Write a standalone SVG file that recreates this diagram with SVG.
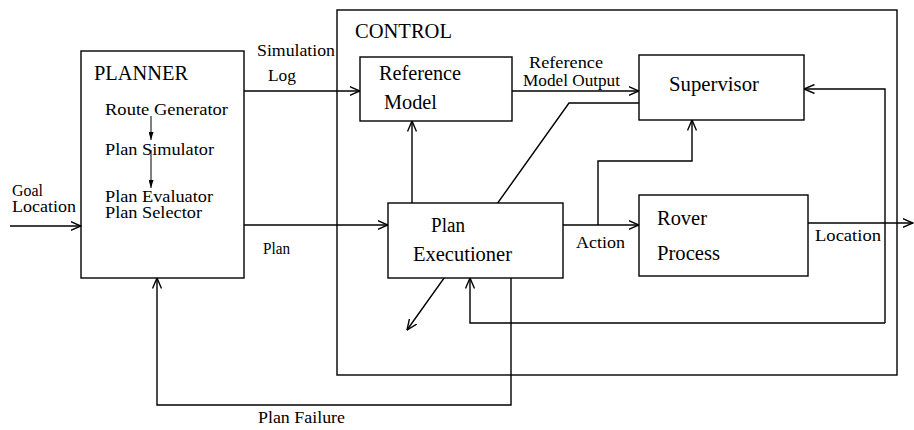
<svg xmlns="http://www.w3.org/2000/svg" width="914" height="430" viewBox="0 0 914 430">
<style>
.box{fill:#fff;stroke:#000;stroke-width:1.4}
.frame{fill:none;stroke:#000;stroke-width:1.4}
.ln{fill:none;stroke:#000;stroke-width:1.4}
.thin{fill:none;stroke:#000;stroke-width:1}
text{font-family:"Liberation Serif","Times New Roman",serif;fill:#000}
.t{font-size:20px}
.l{font-size:17.5px}
</style>
<defs>
<marker id="arr" viewBox="0 0 11 10" refX="10.5" refY="5" markerWidth="11" markerHeight="10" orient="auto" markerUnits="userSpaceOnUse">
<path d="M0,0.5 L10.5,5 L0,9.5" fill="none" stroke="#000" stroke-width="1.4"/>
</marker>
<marker id="sarr" viewBox="0 0 8 5" refX="8" refY="2.5" markerWidth="8" markerHeight="5" orient="auto" markerUnits="userSpaceOnUse">
<path d="M0,0 L8,2.5 L0,5 Z" fill="#000"/>
</marker>
</defs>

<g id="control">
<rect class="frame" x="337" y="10" width="560" height="365"/>
<text class="t" x="355" y="38" textLength="97" lengthAdjust="spacingAndGlyphs">CONTROL</text>
</g>

<g id="connectors">
<path class="ln" d="M10,226 H81" marker-end="url(#arr)"/>
<path class="ln" d="M244,91 H360" marker-end="url(#arr)"/>
<path class="ln" d="M244,225 H388" marker-end="url(#arr)"/>
<path class="ln" d="M412,203 V121" marker-end="url(#arr)"/>
<path class="ln" d="M512,91 H639" marker-end="url(#arr)"/>
<path class="ln" d="M639,103 H569 L407,330" marker-end="url(#arr)"/>
<path class="ln" d="M563,225 H639" marker-end="url(#arr)"/>
<path class="ln" d="M598,225 V161 H692 V120" marker-end="url(#arr)"/>
<path class="ln" d="M808,223 H913" marker-end="url(#arr)"/>
<path class="ln" d="M885,323 V89 H804" marker-end="url(#arr)"/>
<path class="ln" d="M885,323 H470 V278" marker-end="url(#arr)"/>
<path class="ln" d="M511,278 V405 H157 V278" marker-end="url(#arr)"/>
<path class="thin" d="M151,116 V140" marker-end="url(#sarr)"/>
<path class="thin" d="M151,150 V188" marker-end="url(#sarr)"/>
<text class="l" x="12" y="196" textLength="31" lengthAdjust="spacingAndGlyphs">Goal</text>
<text class="l" x="12" y="212" textLength="64" lengthAdjust="spacingAndGlyphs">Location</text>
<text class="l" x="257" y="56" textLength="78" lengthAdjust="spacingAndGlyphs">Simulation</text>
<text class="l" x="268" y="81" textLength="28" lengthAdjust="spacingAndGlyphs">Log</text>
<text class="l" x="263" y="254" textLength="27" lengthAdjust="spacingAndGlyphs">Plan</text>
<text class="l" x="529" y="68" textLength="74" lengthAdjust="spacingAndGlyphs">Reference</text>
<text class="l" x="523" y="86" textLength="97" lengthAdjust="spacingAndGlyphs">Model Output</text>
<text class="l" x="576" y="248" textLength="49" lengthAdjust="spacingAndGlyphs">Action</text>
<text class="l" x="815" y="241" textLength="66" lengthAdjust="spacingAndGlyphs">Location</text>
<text class="l" x="258" y="423" textLength="87" lengthAdjust="spacingAndGlyphs">Plan Failure</text>
</g>

<g id="planner">
<rect class="box" x="81" y="51" width="163" height="227" style="fill:none"/>
<text class="t" x="94" y="80" textLength="94" lengthAdjust="spacingAndGlyphs">PLANNER</text>
<text class="l" x="105" y="115" textLength="123" lengthAdjust="spacingAndGlyphs">Route Generator</text>
<text class="l" x="105" y="155" textLength="109" lengthAdjust="spacingAndGlyphs">Plan Simulator</text>
<text class="l" x="105" y="202" textLength="108" lengthAdjust="spacingAndGlyphs">Plan Evaluator</text>
<text class="l" x="105" y="218" textLength="97" lengthAdjust="spacingAndGlyphs">Plan Selector</text>
</g>

<g id="reference-model">
<rect class="box" x="360" y="57" width="152" height="64"/>
<text class="t" x="379" y="80" textLength="82" lengthAdjust="spacingAndGlyphs">Reference</text>
<text class="t" x="384" y="109" textLength="53" lengthAdjust="spacingAndGlyphs">Model</text>
</g>

<g id="supervisor">
<rect class="box" x="639" y="55" width="165" height="65"/>
<text class="t" x="669" y="91" textLength="90" lengthAdjust="spacingAndGlyphs">Supervisor</text>
</g>

<g id="plan-executioner">
<rect class="box" x="388" y="203" width="175" height="75"/>
<text class="t" x="431" y="232" textLength="34" lengthAdjust="spacingAndGlyphs">Plan</text>
<text class="t" x="413" y="261" textLength="99" lengthAdjust="spacingAndGlyphs">Executioner</text>
</g>

<g id="rover-process">
<rect class="box" x="639" y="195" width="169" height="81"/>
<text class="t" x="657" y="225" textLength="50" lengthAdjust="spacingAndGlyphs">Rover</text>
<text class="t" x="657" y="260" textLength="63" lengthAdjust="spacingAndGlyphs">Process</text>
</g>
</svg>
